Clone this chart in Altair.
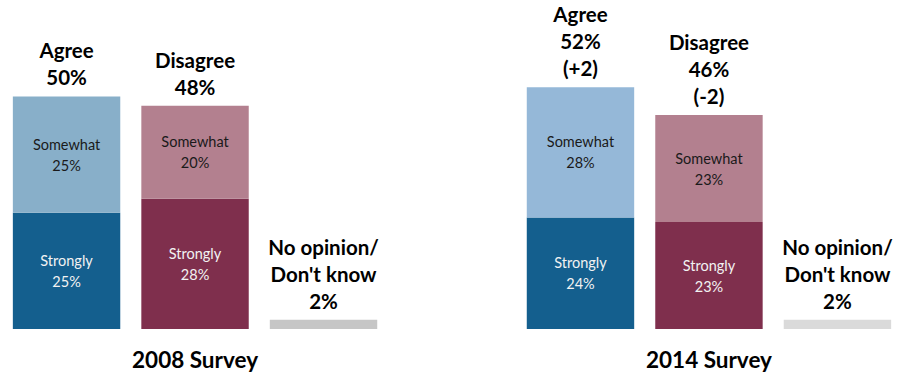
import altair as alt
import pandas as pd

surveys = ["2008 Survey", "2014 Survey"]
agree_strongly = [25, 24]
agree_somewhat = [25, 28]
disagree_strongly = [28, 23]
disagree_somewhat = [20, 23]
no_opinion = [2, 2]
agree_total = [50, 52]
disagree_total = [48, 46]
change_agree = ["", "(+2)"]
change_disagree = ["", "(-2)"]

slots = [["A0", "D0", "N0"], ["A1", "D1", "N1"]]
x_domain = ["A0", "D0", "N0", "gap", "A1", "D1", "N1"]

segs, heads, titles = [], [], []
for i, s in enumerate(surveys):
    a, d, n = slots[i]
    segs += [
        dict(x=a, lo=0, hi=agree_strongly[i], key=f"as{i}",
             label=f"Strongly\n{agree_strongly[i]}%", tc="light"),
        dict(x=a, lo=agree_strongly[i], hi=agree_strongly[i] + agree_somewhat[i], key=f"aw{i}",
             label=f"Somewhat\n{agree_somewhat[i]}%", tc="dark"),
        dict(x=d, lo=0, hi=disagree_strongly[i], key=f"ds{i}",
             label=f"Strongly\n{disagree_strongly[i]}%", tc="light"),
        dict(x=d, lo=disagree_strongly[i], hi=disagree_strongly[i] + disagree_somewhat[i], key=f"dw{i}",
             label=f"Somewhat\n{disagree_somewhat[i]}%", tc="dark"),
        dict(x=n, lo=0, hi=no_opinion[i], key=f"n{i}", label="", tc="dark"),
    ]
    al = ["Agree", f"{agree_total[i]}%"] + ([change_agree[i]] if change_agree[i] else [])
    dl = ["Disagree", f"{disagree_total[i]}%"] + ([change_disagree[i]] if change_disagree[i] else [])
    nl = ["No opinion/", "Don't know", f"{no_opinion[i]}%"]
    for xx, top, lines in [(a, agree_strongly[i] + agree_somewhat[i], al),
                           (d, disagree_strongly[i] + disagree_somewhat[i], dl),
                           (n, no_opinion[i], nl)]:
        for j, ln in enumerate(lines):
            heads.append(dict(x=xx, top=top, text=ln, k=len(lines) - 1 - j))
    titles.append(dict(x=d, text=s))

seg_df = pd.DataFrame(segs)
head_df = pd.DataFrame(heads)
title_df = pd.DataFrame(titles)

color_keys = ["as0", "aw0", "ds0", "dw0", "n0", "as1", "aw1", "ds1", "dw1", "n1"]
color_vals = ["#145F8E", "#88AFC9", "#7F2F4D", "#B3808F", "#C6C6C6",
              "#145F8E", "#95B8D8", "#7F2F4D", "#B3808F", "#DADADA"]

xs = alt.X("x:N", scale=alt.Scale(domain=x_domain, paddingInner=0.164, paddingOuter=0.1), axis=None)
ys = alt.Scale(domain=[-10.32, 70.75], nice=False, zero=False)

bars = alt.Chart(seg_df).mark_bar().encode(
    x=xs,
    y=alt.Y("lo:Q", scale=ys, axis=None),
    y2="hi:Q",
    color=alt.Color("key:N", scale=alt.Scale(domain=color_keys, range=color_vals), legend=None),
)

inner = alt.Chart(seg_df).transform_filter("datum.label != ''").transform_calculate(
    mid="(datum.lo + datum.hi) / 2"
).mark_text(font="Lato", fontSize=14.5, lineBreak="\n", lineHeight=21, baseline="middle", align="center",
            dy=-9).encode(
    x=xs,
    y=alt.Y("mid:Q", scale=ys, axis=None),
    text="label:N",
    color=alt.Color("tc:N", scale=alt.Scale(domain=["light", "dark"], range=["#F2F2F2", "#1A1A1A"]), legend=None),
)

head_layers = []
for k in range(3):
    head_layers.append(
        alt.Chart(head_df).transform_filter(f"datum.k == {k}").mark_text(
            font="Lato", fontSize=20.5, fontWeight="bold", baseline="bottom", align="center",
            dy=-7 - 27 * k, color="#000000").encode(
            x=xs,
            y=alt.Y("top:Q", scale=ys, axis=None),
            text="text:N",
        )
    )

title = alt.Chart(title_df).mark_text(font="Lato", fontSize=22.5, fontWeight="bold", baseline="middle",
                                       align="center", color="#000000").encode(
    x=xs,
    y=alt.value(361),
    text="text:N",
)

chart = alt.layer(bars, inner, *head_layers, title).properties(
    width=904, height=377, padding=0, autosize=alt.AutoSizeParams(type="none")
).configure_view(stroke=None).resolve_scale(color="independent")

chart.save("out.html", embed_options={"renderer": "svg", "actions": False})
